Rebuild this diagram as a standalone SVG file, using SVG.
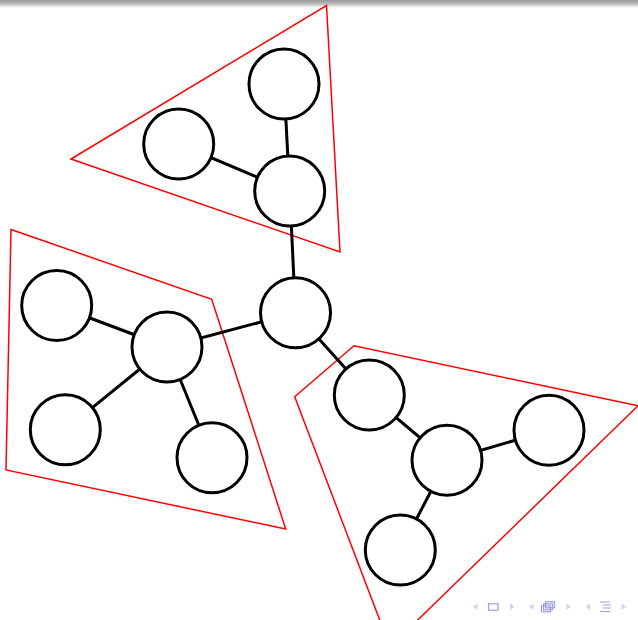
<svg xmlns="http://www.w3.org/2000/svg" width="638" height="620" viewBox="0 0 638 620">
<defs>
<linearGradient id="bar" x1="0" y1="0" x2="0" y2="1">
<stop offset="0" stop-color="#9a9a9a"/>
<stop offset="0.4" stop-color="#b0b0b0"/>
<stop offset="1" stop-color="#ffffff"/>
</linearGradient>
<style>
.node{fill:#fff;stroke:#000;stroke-width:3}
.edge{stroke:#000;stroke-width:3;fill:none}
.hull{fill:none;stroke:#ff0000;stroke-width:1.5;stroke-linejoin:miter}
.arr{fill:#d2d2f0}
.ico{fill:none;stroke:#9d9ddc;stroke-width:1.2}
</style>
</defs>
<rect x="0" y="0" width="638" height="620" fill="#fff"/>
<rect x="0" y="0" width="638" height="8" fill="url(#bar)"/>
<g id="hulls">
<polygon class="hull" points="71,159 326.5,5.5 340,252"/>
<polygon class="hull" points="11,229.5 211.7,299.3 285.7,529 6,470"/>
<polygon class="hull" points="294.7,396.7 354,345.7 638,405.7 390,647"/>
</g>
<g id="connectors">
<line class="edge" x1="295.5" y1="312.8" x2="289.7" y2="191"/>
<line class="edge" x1="295.5" y1="312.8" x2="167" y2="347"/>
<line class="edge" x1="295.5" y1="312.8" x2="369.3" y2="395"/>
<line class="edge" x1="289.7" y1="191" x2="284" y2="84"/>
<line class="edge" x1="289.7" y1="191" x2="178.7" y2="144"/>
<line class="edge" x1="167" y1="347" x2="56.7" y2="305.5"/>
<line class="edge" x1="167" y1="347" x2="65.3" y2="429.7"/>
<line class="edge" x1="167" y1="347" x2="212" y2="457.7"/>
<line class="edge" x1="447" y1="460.3" x2="369.3" y2="395"/>
<line class="edge" x1="447" y1="460.3" x2="549" y2="430.3"/>
<line class="edge" x1="447" y1="460.3" x2="400.3" y2="550"/>
</g>
<g id="n0"><circle class="node" cx="295.5" cy="312.8" r="35"/></g>
<g id="n1"><circle class="node" cx="289.7" cy="191" r="35"/></g>
<g id="n2"><circle class="node" cx="284" cy="84" r="35"/></g>
<g id="n3"><circle class="node" cx="178.7" cy="144" r="35"/></g>
<g id="n4"><circle class="node" cx="167" cy="347" r="35"/></g>
<g id="n5"><circle class="node" cx="56.7" cy="305.5" r="35"/></g>
<g id="n6"><circle class="node" cx="65.3" cy="429.7" r="35"/></g>
<g id="n7"><circle class="node" cx="212" cy="457.7" r="35"/></g>
<g id="n8"><circle class="node" cx="447" cy="460.3" r="35"/></g>
<g id="n9"><circle class="node" cx="369.3" cy="395" r="35"/></g>
<g id="n10"><circle class="node" cx="549" cy="430.3" r="35"/></g>
<g id="n11"><circle class="node" cx="400.3" cy="550" r="35"/></g>
<g id="nav">
<polygon class="arr" points="477.5,603.5 477.5,610 473,606.7"/>
<rect class="ico" x="488.5" y="603.8" width="9.5" height="6.4"/>
<polygon class="arr" points="510,603.5 510,610 514.5,606.7"/>
<polygon class="arr" points="533.5,603.5 533.5,610 529,606.7"/>
<rect class="ico" x="545.5" y="601.8" width="9" height="6"/>
<rect class="ico" x="543.5" y="603.8" width="9" height="6" fill="#fff"/>
<rect class="ico" x="541.5" y="605.8" width="9" height="6" fill="#fff"/>
<polygon class="arr" points="566.5,603.5 566.5,610 571,606.7"/>
<polygon class="arr" points="590,603.5 590,610 585.5,606.7"/>
<path class="ico" d="M600,602 h10 M603,605 h8 M603,608 h8 M600,611.5 h10"/>
<polygon class="arr" points="621.5,603.5 621.5,610 626,606.7"/>
</g>
</svg>
